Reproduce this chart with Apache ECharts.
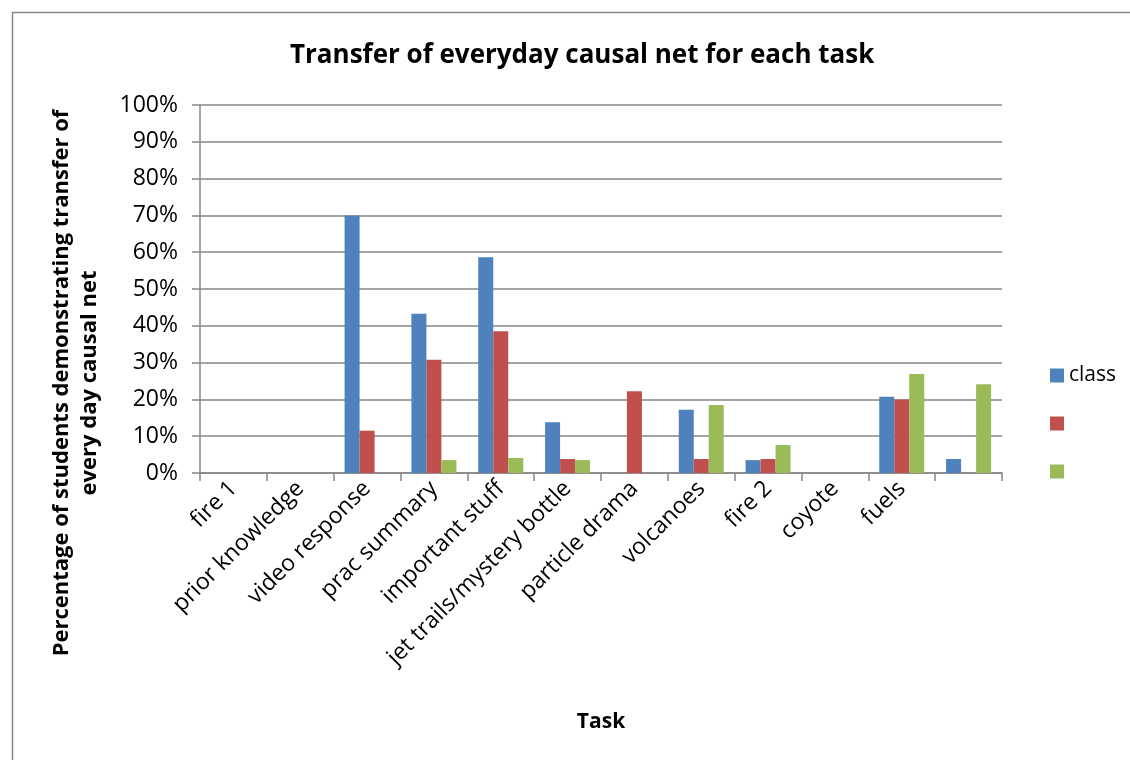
<!DOCTYPE html>
<html>
<head>
<meta charset="utf-8">
<script src="https://cdn.jsdelivr.net/npm/echarts@6/dist/echarts.min.js"></script>
<style>
html,body{margin:0;padding:0;background:#fff;}
#c{width:1130px;height:760px;}
</style>
</head>
<body>
<div id="c"></div>
<script>
const categories = ['fire 1','prior knowledge','video response','prac summary','important stuff','jet trails/mystery bottle','particle drama','volcanoes','fire 2','coyote','fuels',''];
const seriesNames = ['class',' ','  '];
const classValues = [0,0,70.0,43.3,58.6,13.8,0,17.2,3.5,0,20.7,3.8];
const redValues   = [0,0,11.5,30.8,38.5,3.8,22.2,3.8,3.8,0,20.0,0];
const greenValues = [0,0,0,3.5,4.1,3.5,0,18.5,7.6,0,26.9,24.1];
const yTicks = {min:0,max:100,interval:10};

const FONT = 'Open Sans';
const chart = echarts.init(document.getElementById('c'));
const colors = ['#4F81BD','#C0504D','#9BBB59'];
const values = [classValues, redValues, greenValues];
chart.setOption({
  animation:false,
  backgroundColor:'#fff',
  textStyle:{fontFamily:FONT},
  title:{
    text:'Transfer of everyday causal net for each task',
    left:285, top:38,
    textStyle:{fontFamily:FONT,fontSize:26,fontWeight:'bold',color:'#000'}
  },
  legend:{
    orient:'vertical', left:1045, top:360,
    itemWidth:14, itemHeight:14, itemGap:27,
    icon:'rect',
    textStyle:{fontFamily:FONT,fontSize:21,color:'#000',lineHeight:20},
    data:seriesNames
  },
  grid:{left:200,right:128,top:105,bottom:287},
  xAxis:{
    type:'category',
    data:categories,
    name:'Task', nameLocation:'middle', nameGap:239,
    nameTextStyle:{fontFamily:FONT,fontSize:21,fontWeight:'bold',color:'#000'},
    axisLine:{lineStyle:{color:'#868686',width:1.5}},
    axisTick:{show:true,length:8,lineStyle:{color:'#868686',width:1.5}},
    axisLabel:{rotate:45,interval:0,fontFamily:FONT,fontSize:23,color:'#000',margin:12}
  },
  yAxis:{
    type:'value',
    min:yTicks.min,max:yTicks.max,interval:yTicks.interval,
    axisLine:{show:true,lineStyle:{color:'#868686',width:1.5}},
    axisTick:{show:true,length:8,lineStyle:{color:'#868686',width:1.5}},
    splitLine:{lineStyle:{color:'#868686',width:1.5}},
    axisLabel:{formatter:'{value}%',fontFamily:FONT,fontSize:23,color:'#000',margin:22}
  },
  graphic:[
    {type:'rect',shape:{x:12.5,y:12.5,width:1130,height:760},style:{fill:null,stroke:'#868686',lineWidth:1.5},silent:true},
    {type:'text',x:76,y:383,rotation:Math.PI/2,
     style:{text:'Percentage of students demonstrating transfer of\nevery day causal net',
       textAlign:'center',textVerticalAlign:'middle',
       font:'bold 22px "Open Sans"',fill:'#000',lineHeight:28}}
  ],
  series: seriesNames.map((n,i)=>({
    name:n, type:'bar', data:values[i], barWidth:15, barGap:'0%',
    itemStyle:{color:colors[i]}
  }))
});
</script>
</body>
</html>
